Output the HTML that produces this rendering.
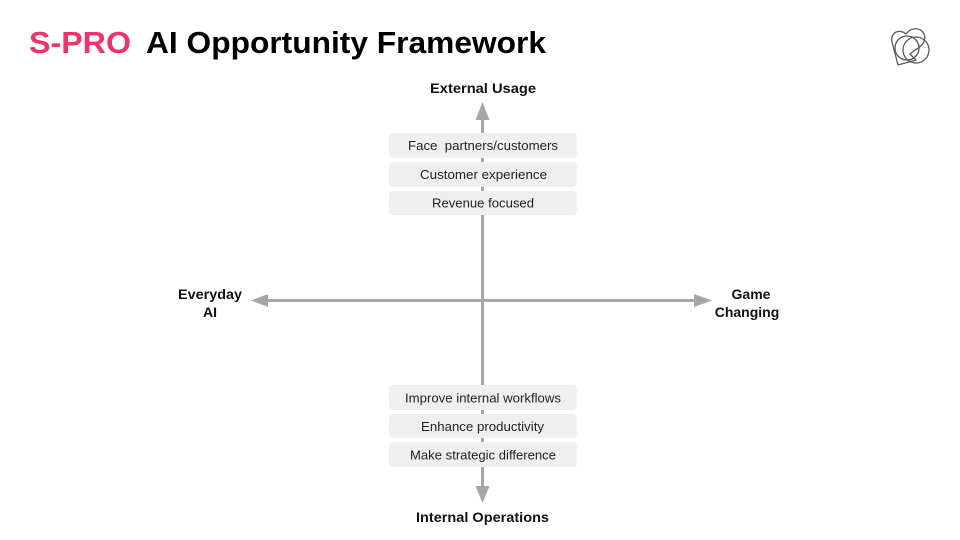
<!DOCTYPE html>
<html>
<head>
<meta charset="utf-8">
<style>
  html, body { margin:0; padding:0; background:#ffffff; }
  body { width:960px; height:540px; overflow:hidden; }
  svg { display:block; }
  text { font-family: "Liberation Sans", Arial, sans-serif; }
</style>
</head>
<body>
<svg width="960" height="540" viewBox="0 0 960 540" xmlns="http://www.w3.org/2000/svg">
  <rect x="0" y="0" width="960" height="540" fill="#ffffff"/>

  <!-- Title -->
  <text x="29" y="53" font-size="31" font-weight="bold" fill="#f0326a" textLength="102" lengthAdjust="spacingAndGlyphs">S-PRO</text>
  <text x="146" y="53" font-size="31" font-weight="bold" fill="#000000" textLength="400" lengthAdjust="spacingAndGlyphs">AI Opportunity Framework</text>

  <!-- Logo -->
  <g fill="none" stroke="#5a5a5a" stroke-width="1.3" stroke-linejoin="round">
    <path d="M898,65 L892,42 C890,33 899,28 906,34 C911,27 921,27 924,34 C927,41 921,47 915,50 L910,54 L916,60 Z"/>
    <circle cx="907" cy="48" r="12"/>
    <circle cx="916" cy="50" r="13"/>
  </g>

  <!-- Axes -->
  <g stroke="#a6a6a6" stroke-width="3" fill="none">
    <line x1="482.5" y1="118" x2="482.5" y2="488"/>
    <line x1="264" y1="300.5" x2="695" y2="300.5"/>
  </g>
  <g fill="#a6a6a6">
    <polygon points="482.5,102 475.5,120 489.5,120"/>
    <polygon points="482.5,503 475.5,486 489.5,486"/>
    <polygon points="251,300.5 268,294 268,307"/>
    <polygon points="712,300.5 694,294 694,307"/>
  </g>

  <!-- Boxes -->
  <g fill="#efefef">
    <rect x="389" y="133" width="188" height="25" rx="4"/>
    <rect x="389" y="162" width="188" height="25" rx="4"/>
    <rect x="389" y="191" width="188" height="24" rx="4"/>
    <rect x="389" y="385" width="188" height="25" rx="4"/>
    <rect x="389" y="414" width="188" height="24" rx="4"/>
    <rect x="389" y="442" width="188" height="25" rx="4"/>
  </g>

  <g font-size="13" fill="#222222">
    <text x="408" y="150" textLength="150" lengthAdjust="spacingAndGlyphs" xml:space="preserve">Face  partners/customers</text>
    <text x="420" y="179" textLength="127" lengthAdjust="spacingAndGlyphs">Customer experience</text>
    <text x="432" y="207.5" textLength="102" lengthAdjust="spacingAndGlyphs">Revenue focused</text>
    <text x="405" y="402.5" textLength="156" lengthAdjust="spacingAndGlyphs">Improve internal workflows</text>
    <text x="421" y="431" textLength="123" lengthAdjust="spacingAndGlyphs">Enhance productivity</text>
    <text x="410" y="459.5" textLength="146" lengthAdjust="spacingAndGlyphs">Make strategic difference</text>
  </g>

  <!-- Axis labels -->
  <g font-size="14" font-weight="bold" fill="#111111">
    <text x="430" y="93" textLength="106" lengthAdjust="spacingAndGlyphs">External Usage</text>
    <text x="416" y="522" textLength="133" lengthAdjust="spacingAndGlyphs">Internal Operations</text>
    <text x="178" y="299" textLength="64" lengthAdjust="spacingAndGlyphs">Everyday</text>
    <text x="203" y="317" textLength="14" lengthAdjust="spacingAndGlyphs">AI</text>
    <text x="751" y="299" text-anchor="middle">Game</text>
    <text x="747" y="317" text-anchor="middle">Changing</text>
  </g>
</svg>
</body>
</html>
